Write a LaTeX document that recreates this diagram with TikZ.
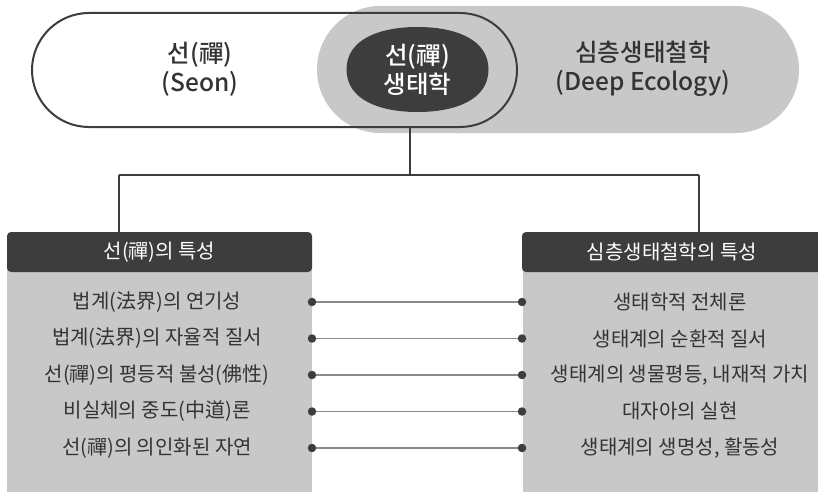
\documentclass[tikz,border=0pt]{standalone}
\usepackage{fontspec}
\setmainfont{Noto Sans CJK KR}
\newfontfamily\kr{Noto Sans CJK KR}
\newfontfamily\krm{Noto Sans CJK KR Medium}
\definecolor{dk}{HTML}{3D3D3D}
\definecolor{lg}{HTML}{C8C8C8}
\definecolor{tx}{HTML}{333333}
\definecolor{ln}{HTML}{8A8A8A}
\begin{document}
\begin{tikzpicture}[x=1pt,y=-1pt,
  toptext/.style={font=\krm\fontsize{24.5}{29}\selectfont, align=center, text=tx, inner sep=0pt},
  headbox/.style={fill=dk, rounded corners=4pt, minimum height=40pt, inner sep=0pt, text=white, font=\kr\fontsize{20}{24}\selectfont},
  itemtext/.style={font=\kr\fontsize{20}{24}\selectfont, text=tx, inner sep=0pt, anchor=center},
  dotpt/.style={circle, fill=dk, minimum size=8.5pt, inner sep=0pt},
  conn/.style={draw=ln, line width=1.1pt},
  wire/.style={draw=dk, line width=1.6pt}
]
\useasboundingbox (0,0) rectangle (818,492);
\fill[white] (0,0) rectangle (818,492);
% grey stadium (Deep Ecology)
\node[fill=lg, rounded corners=63.5pt, minimum width=482pt, minimum height=127pt, inner sep=0pt] (deep) at (558,69.5) {};
% white stadium outline (Seon)
\node[draw=dk, line width=2pt, rounded corners=57pt, minimum width=485pt, minimum height=114pt, inner sep=0pt] (seon) at (274.5,70) {};
% dark centre (squircle)
\coordinate (ec) at (417.5,69.5);
\fill[dk] (488.5,69.5)
  .. controls (488.5,39) and (455,27) .. (417.5,27)
  .. controls (380,27) and (346.5,39) .. (346.5,69.5)
  .. controls (346.5,100) and (380,112) .. (417.5,112)
  .. controls (455,112) and (488.5,100) .. (488.5,69.5) -- cycle;
\node[toptext] (seonT) at (200,69) {선(禪)\\(Seon)};
\node[toptext, text=white] (ecoT) at (ec) {선(禪)\\생태학};
\node[toptext] (deepT) at (643,69) {심층생태철학\\(Deep Ecology)};
% bodies
\fill[lg] (7,262) rectangle (312,492);
\fill[lg] (523,262) rectangle (818,492);
\node[headbox, minimum width=305pt] (lh) at (159.5,252) {선(禪)의 특성};
\node[headbox, minimum width=300pt] (rh) at (672,252) {심층생태철학의 특성};
% tree connectors
\coordinate (j) at (410,175);
\coordinate (jl) at (119,175);
\coordinate (jr) at (699,175);
\draw[wire] (seon.south -| j) -- (j);
\draw[wire] (jl) -- (jr);
\draw[wire] (jl) -- (lh.north -| jl);
\draw[wire] (jr) -- (rh.north -| jr);
% items
\foreach \i/\y/\a/\b in {1/302/{법계(法界)의 연기성}/{생태학적 전체론},
                        2/338.5/{법계(法界)의 자율적 질서}/{생태계의 순환적 질서},
                        3/375/{선(禪)의 평등적 불성(佛性)}/{생태계의 생물평등, 내재적 가치},
                        4/411.5/{비실체의 중도(中道)론}/{대자아의 실현},
                        5/448/{선(禪)의 의인화된 자연}/{생태계의 생명성, 활동성}}{
  \node[itemtext] (l\i) at (157,\y) {\a};
  \node[itemtext] (r\i) at (680,\y) {\b};
  \node[dotpt] (dl\i) at (312,\y) {};
  \node[dotpt] (dr\i) at (522,\y) {};
  \draw[conn] (dl\i) -- (dr\i);
}
\end{tikzpicture}
\end{document}
